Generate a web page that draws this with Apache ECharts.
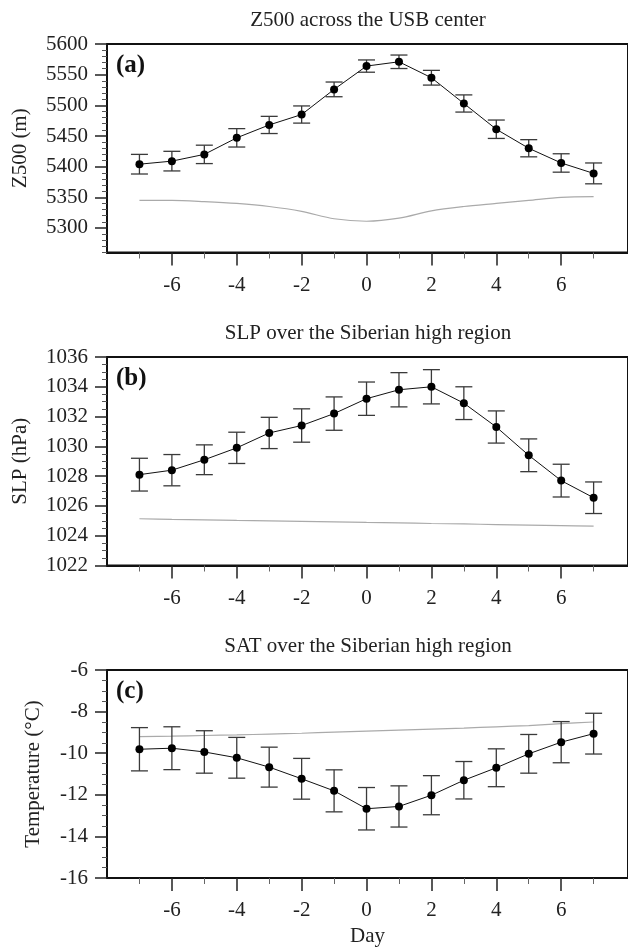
<!DOCTYPE html>
<html>
<head>
<meta charset="utf-8">
<script src="https://cdn.jsdelivr.net/npm/echarts@6/dist/echarts.min.js"></script>
<style>
  html, body { margin: 0; padding: 0; background: #fff; }
  #chart { width: 628px; height: 948px; }
</style>
</head>
<body>
<div id="chart"></div>
<script>
// composite days
const days = [-7, -6, -5, -4, -3, -2, -1, 0, 1, 2, 3, 4, 5, 6, 7];
const xMajorTicks = [-6, -4, -2, 0, 2, 4, 6];
const xMinorTicks = [-7, -5, -3, -1, 1, 3, 5, 7];

// (a) Z500
const z500 = [5404, 5409, 5420, 5447, 5468, 5485, 5526, 5564, 5571, 5545, 5503, 5461, 5430, 5406, 5389];
const z500Err = [16, 16, 15, 15, 14, 14, 12, 10, 11, 12, 14, 15, 14, 15, 17];
const z500Clim = [5345, 5345, 5343, 5340, 5335, 5327, 5315, 5311, 5316, 5328, 5335, 5340, 5345, 5350, 5351];
const z500Ticks = [5300, 5350, 5400, 5450, 5500, 5550, 5600];

// (b) SLP
const slp = [1028.1, 1028.4, 1029.1, 1029.9, 1030.9, 1031.4, 1032.2, 1033.2, 1033.8, 1034.0, 1032.9, 1031.3, 1029.4, 1027.7, 1026.55];
const slpErr = [1.1, 1.05, 1.0, 1.05, 1.05, 1.12, 1.12, 1.12, 1.15, 1.15, 1.1, 1.08, 1.1, 1.1, 1.06];
const slpClim = [1025.14, 1025.1, 1025.07, 1025.03, 1025.0, 1024.96, 1024.93, 1024.89, 1024.86, 1024.82, 1024.79, 1024.75, 1024.71, 1024.68, 1024.64];
const slpTicks = [1022, 1024, 1026, 1028, 1030, 1032, 1034, 1036];

// (c) SAT
const sat = [-9.81, -9.76, -9.94, -10.22, -10.67, -11.23, -11.81, -12.67, -12.56, -12.02, -11.3, -10.7, -10.03, -9.47, -9.06];
const satErr = [1.04, 1.03, 1.02, 0.98, 0.96, 0.98, 1.01, 1.02, 0.99, 0.94, 0.9, 0.91, 0.93, 0.99, 0.98];
const satClim = [-9.2, -9.18, -9.15, -9.12, -9.08, -9.04, -8.99, -8.94, -8.89, -8.84, -8.79, -8.73, -8.67, -8.58, -8.5];
const satTicks = [-16, -14, -12, -10, -8, -6];

const FONT = '"Liberation Serif", "Times New Roman", serif';

const panels = [
  { title: 'Z500 across the USB center', tag: '(a)', name: 'Z500 (m)', mean: z500, err: z500Err, clim: z500Clim,
    min: 5260, max: 5600, ticks: z500Ticks, minorStep: 10, top: 44, nameGap: 76 },
  { title: 'SLP over the Siberian high region', tag: '(b)', name: 'SLP (hPa)', mean: slp, err: slpErr, clim: slpClim,
    min: 1022, max: 1036, ticks: slpTicks, minorStep: 0.5, top: 357, nameGap: 76 },
  { title: 'SAT over the Siberian high region', tag: '(c)', name: 'Temperature (°C)', mean: sat, err: satErr, clim: satClim,
    min: -16, max: -6, ticks: satTicks, minorStep: 0.5, top: 670, nameGap: 63 }
];

function minorTicks(p) {
  const out = [];
  const n = Math.round((p.max - p.min) / p.minorStep);
  for (let k = 0; k <= n; k++) {
    const v = +(p.min + k * p.minorStep).toFixed(4);
    if (p.ticks.indexOf(v) < 0) out.push(v);
  }
  return out;
}

const grid = [], xAxis = [], yAxis = [], series = [], graphic = [];

panels.forEach((p, i) => {
  // right edge of the frame sits just past the picture, as in the original
  grid.push({ left: 107, width: 525, top: p.top, height: 208.5, show: true,
    borderColor: '#111', borderWidth: 2, backgroundColor: 'transparent' });

  xAxis.push({
    gridIndex: i, type: 'value', min: -8, max: 8.06, position: 'bottom',
    axisLine: { show: true, onZero: false, lineStyle: { color: '#111', width: 2 } },
    axisTick: { show: true, length: 13, customValues: xMajorTicks, lineStyle: { color: '#222', width: 1.5 } },
    axisLabel: { customValues: xMajorTicks, margin: 22, fontFamily: FONT, fontSize: 21, color: '#222',
      formatter: v => String(v) },
    splitLine: { show: false },
    name: i === 2 ? 'Day' : '', nameLocation: 'middle', nameGap: 48,
    nameTextStyle: { fontFamily: FONT, fontSize: 21, color: '#222' }
  });
  xAxis.push({
    gridIndex: i, type: 'value', min: -8, max: 8.06, position: 'bottom',
    axisLine: { show: false, onZero: false },
    axisTick: { show: true, length: 6, customValues: xMinorTicks, lineStyle: { color: '#666', width: 1 } },
    axisLabel: { show: false }, splitLine: { show: false }
  });

  yAxis.push({
    gridIndex: i, type: 'value', min: p.min, max: p.max, position: 'left',
    axisLine: { show: true, onZero: false, lineStyle: { color: '#111', width: 2 } },
    axisTick: { show: true, length: 12, customValues: p.ticks, lineStyle: { color: '#222', width: 1.5 } },
    axisLabel: { customValues: p.ticks, margin: 19, fontFamily: FONT, fontSize: 21, color: '#222',
      formatter: v => String(v) },
    splitLine: { show: false },
    name: p.name, nameLocation: 'middle', nameGap: p.nameGap, nameRotate: 90,
    nameTextStyle: { fontFamily: FONT, fontSize: 21, color: '#222' }
  });
  yAxis.push({
    gridIndex: i, type: 'value', min: p.min, max: p.max, position: 'left',
    axisLine: { show: false, onZero: false },
    axisTick: { show: true, length: 5, customValues: minorTicks(p), lineStyle: { color: '#555', width: 1 } },
    axisLabel: { show: false }, splitLine: { show: false }
  });

  // climatology
  series.push({
    type: 'line', xAxisIndex: 2 * i, yAxisIndex: 2 * i,
    data: days.map((d, k) => [d, p.clim[k]]),
    symbol: 'none', smooth: 0.3, lineStyle: { color: '#aaa', width: 1.2 }, z: 2
  });
  // error bars
  series.push({
    type: 'custom', xAxisIndex: 2 * i, yAxisIndex: 2 * i,
    data: days.map((d, k) => [d, p.mean[k] - p.err[k], p.mean[k] + p.err[k]]),
    encode: { x: 0, y: [1, 2] },
    renderItem: (params, api) => {
      const lo = api.coord([api.value(0), api.value(1)]);
      const hi = api.coord([api.value(0), api.value(2)]);
      const w = 8.5;
      const st = { stroke: '#3a3a3a', lineWidth: 1.3 };
      return {
        type: 'group',
        children: [
          { type: 'line', shape: { x1: lo[0], y1: lo[1], x2: hi[0], y2: hi[1] }, style: st },
          { type: 'line', shape: { x1: lo[0] - w, y1: lo[1], x2: lo[0] + w, y2: lo[1] }, style: st },
          { type: 'line', shape: { x1: hi[0] - w, y1: hi[1], x2: hi[0] + w, y2: hi[1] }, style: st }
        ]
      };
    },
    z: 3
  });
  // composite mean
  series.push({
    type: 'line', xAxisIndex: 2 * i, yAxisIndex: 2 * i,
    data: days.map((d, k) => [d, p.mean[k]]),
    symbol: 'circle', symbolSize: 8, itemStyle: { color: '#000' },
    lineStyle: { color: '#111', width: 1 }, z: 4
  });

  graphic.push({
    type: 'text', x: 368, y: p.top - 34, z: 10,
    style: { text: p.title, font: '21px ' + FONT, fill: '#222',
      align: 'center', textAlign: 'center', verticalAlign: 'top', textVerticalAlign: 'top' }
  });
  graphic.push({
    type: 'text', x: 116, y: p.top + 9, z: 10,
    style: { text: p.tag, font: 'bold 25px ' + FONT, fill: '#111',
      align: 'left', textAlign: 'left', verticalAlign: 'top', textVerticalAlign: 'top' }
  });
});

const chart = echarts.init(document.getElementById('chart'), null, { renderer: 'canvas' });
chart.setOption({
  backgroundColor: '#fff',
  animation: false,
  grid, xAxis, yAxis, series, graphic
});
</script>
</body>
</html>
